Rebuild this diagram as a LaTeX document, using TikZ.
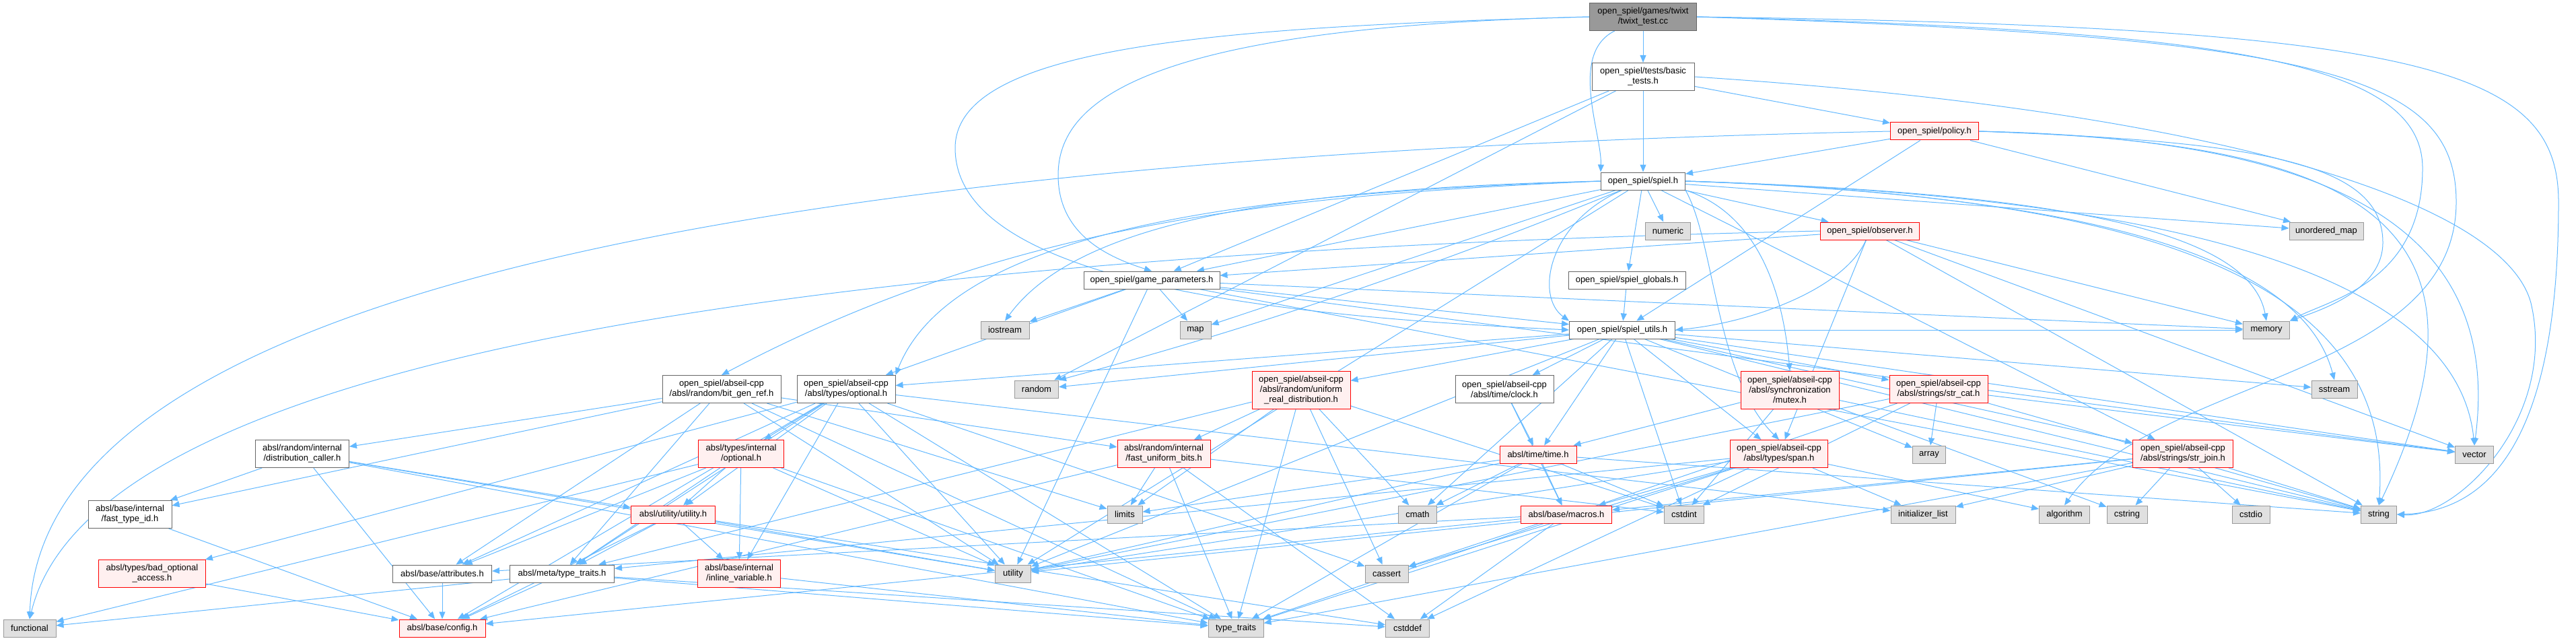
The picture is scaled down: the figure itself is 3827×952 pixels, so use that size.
\documentclass[tikz,border=0pt]{standalone}
\usepackage{fontspec}
\setmainfont{Liberation Sans}
\usetikzlibrary{arrows.meta}
\definecolor{edgec}{HTML}{63B8FF}
\definecolor{redfill}{HTML}{FFF0F0}
\definecolor{grayfill}{HTML}{E0E0E0}
\definecolor{grayline}{HTML}{999999}
\definecolor{darkline}{HTML}{666666}
\definecolor{topfill}{HTML}{999999}
\pgfdeclarelayer{edges}
\pgfsetlayers{edges,main}
\begin{document}
\begin{tikzpicture}[x=1pt,y=-1pt,
  base/.style={draw, line width=1pt, inner sep=0pt, align=center,
    font=\fontsize{13}{15}\selectfont, minimum height=26pt},
  wn/.style={base, fill=white, draw=darkline},
  rn/.style={base, fill=redfill, draw=red},
  gn/.style={base, fill=grayfill, draw=grayline},
  tn/.style={base, fill=topfill, draw=darkline},
  two/.style={minimum height=41pt},
  three/.style={minimum height=56pt},
  ed/.style={draw=edgec, line width=1pt, -{Triangle[length=11pt,width=9pt]}}]
\useasboundingbox (0,0) rectangle (3827,952);
% nodes
\node[tn,two,minimum width=159pt] (tw) at (2441,25) {open\_spiel/games/twixt\\/twixt\_test.cc};
\node[wn,two,minimum width=152pt] (bt) at (2441,114) {open\_spiel/tests/basic\\\_tests.h};
\node[rn,minimum width=131pt] (pol) at (2874,195) {open\_spiel/policy.h};
\node[wn,minimum width=125pt] (sp) at (2441,269) {open\_spiel/spiel.h};
\node[gn,minimum width=67pt] (num) at (2478,343) {numeric};
\node[rn,minimum width=147pt] (obs) at (2778,343) {open\_spiel/observer.h};
\node[gn,minimum width=110pt] (um) at (3456,343) {unordered\_map};
\node[wn,minimum width=202pt] (gp) at (1711,416) {open\_spiel/game\_parameters.h};
\node[wn,minimum width=174pt] (sg) at (2417,416) {open\_spiel/spiel\_globals.h};
\node[gn,minimum width=72pt] (ios) at (1493,490) {iostream};
\node[gn,minimum width=46pt] (map) at (1776,490) {map};
\node[wn,minimum width=157pt] (su) at (2410,490) {open\_spiel/spiel\_utils.h};
\node[gn,minimum width=69pt] (mem) at (3367,490) {memory};
\node[wn,two,minimum width=176pt] (bgr) at (1072,578) {open\_spiel/abseil-cpp\\/absl/random/bit\_gen\_ref.h};
\node[wn,two,minimum width=146pt] (opt) at (1257,578) {open\_spiel/abseil-cpp\\/absl/types/optional.h};
\node[gn,minimum width=65pt] (rnd) at (1540,578) {random};
\node[rn,three,minimum width=146pt] (urd) at (1933,579) {open\_spiel/abseil-cpp\\/absl/random/uniform\\\_real\_distribution.h};
\node[wn,two,minimum width=146pt] (clk) at (2235,578) {open\_spiel/abseil-cpp\\/absl/time/clock.h};
\node[rn,three,minimum width=146pt] (mtx) at (2659,579) {open\_spiel/abseil-cpp\\/absl/synchronization\\/mutex.h};
\node[rn,two,minimum width=146pt] (sc) at (2880,578) {open\_spiel/abseil-cpp\\/absl/strings/str\_cat.h};
\node[gn,minimum width=68pt] (ss) at (3468,578) {sstream};
\node[wn,two,minimum width=139pt] (dc) at (449,674) {absl/random/internal\\/distribution\_caller.h};
\node[rn,two,minimum width=127pt] (iopt) at (1101,674) {absl/types/internal\\/optional.h};
\node[rn,two,minimum width=138pt] (fub) at (1729,674) {absl/random/internal\\/fast\_uniform\_bits.h};
\node[rn,minimum width=114pt] (tm) at (2285,675) {absl/time/time.h};
\node[rn,two,minimum width=145pt] (span) at (2643,674) {open\_spiel/abseil-cpp\\/absl/types/span.h};
\node[gn,minimum width=49pt] (arr) at (2866,675) {array};
\node[rn,two,minimum width=149pt] (sj) at (3243,674) {open\_spiel/abseil-cpp\\/absl/strings/str\_join.h};
\node[gn,minimum width=57pt] (vec) at (3676,675) {vector};
\node[wn,two,minimum width=124pt] (fti) at (193,764) {absl/base/internal\\/fast\_type\_id.h};
\node[rn,minimum width=125pt] (uu) at (1000,764) {absl/utility/utility.h};
\node[gn,minimum width=52pt] (lim) at (1671,764) {limits};
\node[gn,minimum width=57pt] (cm) at (2106,764) {cmath};
\node[rn,minimum width=135pt] (mac) at (2327,764) {absl/base/macros.h};
\node[gn,minimum width=59pt] (ci) at (2502,764) {cstdint};
\node[gn,minimum width=96pt] (il) at (2857,764) {initializer\_list};
\node[gn,minimum width=75pt] (alg) at (3067,764) {algorithm};
\node[gn,minimum width=60pt] (cstr) at (3160,764) {cstring};
\node[gn,minimum width=56pt] (cio) at (3344,764) {cstdio};
\node[gn,minimum width=53pt] (str) at (3534,764) {string};
\node[rn,two,minimum width=159pt] (boa) at (226,852) {absl/types/bad\_optional\\\_access.h};
\node[wn,minimum width=147pt] (att) at (657,852) {absl/base/attributes.h};
\node[wn,minimum width=155pt] (mtt) at (835,852) {absl/meta/type\_traits.h};
\node[rn,two,minimum width=123pt] (iv) at (1098,852) {absl/base/internal\\/inline\_variable.h};
\node[gn,minimum width=53pt] (ut) at (1505,852) {utility};
\node[gn,minimum width=64pt] (cas) at (2060,852) {cassert};
\node[gn,minimum width=78pt] (fn) at (44,933) {functional};
\node[rn,minimum width=128pt] (cfg) at (657,933) {absl/base/config.h};
\node[gn,minimum width=82pt] (tt) at (1836,933) {type\_traits};
\node[gn,minimum width=65pt] (cdd) at (2091,933) {cstddef};
% edges
\begin{pgfonlayer}{edges}
% long routed edges
\draw[ed] (tw.west) .. controls (1700,40) and (1572,150) .. (1572,260) .. controls (1572,345) and (1640,380) .. (gp.north);
\draw[ed] (tw.west) .. controls (1800,40) and (1419,70) .. (1419,220) .. controls (1419,420) and (1900,470) .. (su.west);
\draw[ed] (tw.east) .. controls (3300,45) and (3599,90) .. (3599,250) .. controls (3599,420) and (3460,445) .. (mem.north east);
\draw[ed] (tw.east) .. controls (3450,55) and (3649,110) .. (3649,300) .. controls (3649,560) and (3200,560) .. (alg.north);
\draw[ed] (tw.east) .. controls (3600,40) and (3801,100) .. (3801,300) .. controls (3801,650) and (3700,760) .. (str.east);
\draw[ed] (bt.east) .. controls (3300,165) and (3720,300) .. (3760,450) .. controls (3800,620) and (3650,770) .. (str.east);
\draw[ed] (pol.west) .. controls (1200,230) and (60,420) .. (fn.north);
\draw[ed] (obs.west) .. controls (1500,370) and (150,480) .. (fn.north);
\draw[ed] (pol.east) .. controls (3350,210) and (3540,240) .. (3540,360) .. controls (3540,430) and (3450,460) .. (mem.north east);
\draw[ed] (pol.east) .. controls (3450,205) and (3720,330) .. (vec.north);
\draw[ed] (pol.east) .. controls (3450,210) and (3750,300) .. (str.north);
\draw[ed] (tw) .. controls (2330,80) and (2380,200) .. (sp.north west);
% spiel.h routed edges
\draw[ed] (sp) .. controls (2300,330) and (2280,440) .. (su.north west);
\draw[ed] (sp.south east) .. controls (2548,360) and (2548,560) .. (span.north);
\draw[ed] (sp.south east) .. controls (2620,320) and (2650,450) .. (mtx.north);
\draw[ed] (sp.east) .. controls (3000,285) and (3340,330) .. (mem.north);
\draw[ed] (sp.east) .. controls (3100,290) and (3420,380) .. (ss.north);
\draw[ed] (sp.east) .. controls (3200,290) and (3650,400) .. (vec.north);
\draw[ed] (sp.east) .. controls (3150,290) and (3560,400) .. (str.north);
\draw[ed] (sp.west) .. controls (1900,290) and (1500,330) .. (bgr.north);
\draw[ed] (sp.west) .. controls (1900,285) and (1420,330) .. (opt.north east);
\draw[ed] (sp.west) .. controls (1900,280) and (1600,330) .. (ios.north);
\draw[ed] (sp) .. controls (2000,450) and (1700,530) .. (rnd.north east);
\draw[ed] (obs) .. controls (2740,430) and (2600,480) .. (su.east);
% straight edges
\foreach \a/\b in {tw/bt, bt/sp, bt/pol, bt/gp, bt/rnd,
  pol/sp, pol/su, pol/um,
  sp/num, sp/sg, sp/obs, sp/gp, sp/um, sp/sj, sp/map, sp/ut,
  obs/gp, obs/span, obs/mem, obs/str, obs/vec,
  gp/ios, gp/map, gp/opt, gp/su, gp/mem, gp/str, gp/vec, gp/ut,
  sg/su,
  su/urd, su/sc, su/sj, su/clk, su/tm, su/opt, su/span, su/rnd, su/ss, su/mem, su/str, su/vec, su/arr, su/cm, su/ci, su/ut,
  urd/fub, urd/cas, urd/cm, urd/ci, urd/lim, urd/tt, urd/mtt,
  clk/mac, clk/tm,
  tm/cm, tm/ci, tm/lim, tm/str, tm/tt, tm/ut, tm/mac,
  mtx/tm, mtx/ci, mtx/cstr, mtx/str,
  sc/arr, sc/str, sc/vec, sc/ci, sc/ut, sc/tt,
  sj/il, sj/cstr, sj/cio, sj/str, sj/mac, sj/tt, sj/ut,
  span/alg, span/cas, span/cdd, span/il, span/tt, span/ut, span/mac, span/mtt,
  opt/cfg, opt/uu, opt/cas, opt/il, opt/tt, opt/ut, opt/att, opt/iv, opt/mtt, opt/boa, opt/iopt,
  bgr/lim, bgr/tt, bgr/ut, bgr/att, bgr/fti, bgr/mtt, bgr/dc, bgr/fub,
  dc/cfg, dc/fti, dc/uu, dc/tt, dc/ut,
  iopt/fn, iopt/tt, iopt/ut, iopt/att, iopt/iv, iopt/mtt, iopt/uu,
  uu/cdd, uu/ut, uu/iv, uu/mtt, uu/cfg,
  fub/cdd, fub/ci, fub/lim, fub/tt, fub/cfg,
  mac/cas, mac/cdd, mac/att, mac/cfg,
  iv/tt, mtt/cfg, mtt/cdd, mtt/fn, mtt/tt, att/cfg, boa/cfg, fti/cfg}
  \draw[ed] (\a) -- (\b);
\end{pgfonlayer}
\end{tikzpicture}
\end{document}
